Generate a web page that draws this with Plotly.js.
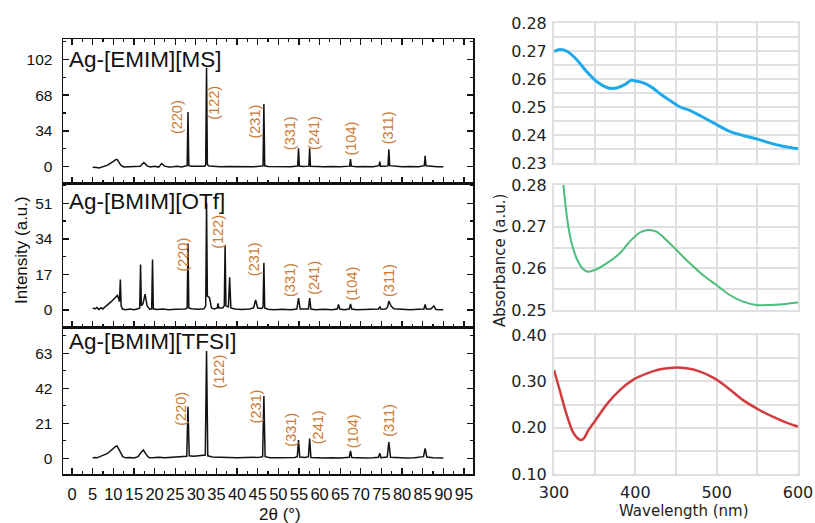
<!DOCTYPE html>
<html>
<head>
<meta charset="utf-8">
<script src="https://cdn.plot.ly/plotly-3.0.1.min.js"></script>
<style>html,body{margin:0;padding:0;background:#fff;}#chart{width:815px;height:523px;}</style>
</head>
<body>
<div id="chart"></div>
<script>
// ---------- XRD data (2θ, intensity) ----------
const xrdEmimMS = [[5,-0.5],[5.5,-1],[6,-0.8],[6.5,-1.2],[7,-0.6],[7.5,-0.3],[8,0.5],[8.5,1.2],[9,2.5],[9.5,3.5],[10,5],[10.5,6.5],[10.9,7],[11.3,4.5],[11.8,1.5],[12.5,-0.2],[13.5,0],[14.5,-0.3],[15.5,0.2],[16.5,0.5],[17.4,4],[18.2,0.8],[19,-0.2],[20,0.3],[21,-0.4],[21.7,3],[22.4,0.5],[23.5,-0.2],[24.5,0],[25.5,0.3],[26.5,-0.2],[27.5,0.2],[27.9,1],[28.1,52],[28.3,1],[29,0.4],[30,0],[31,0.3],[32.2,0.5],[32.4,2],[32.6,94],[32.8,2],[33.2,0.6],[34.5,0.2],[36,-0.1],[38,0.2],[40,0],[42,0.3],[44,0],[45.5,0.3],[46.3,0.8],[46.5,59.5],[46.7,0.8],[47.5,0.2],[49,0],[51,0.2],[53,-0.1],[54.7,0.6],[54.9,17.4],[55.1,0.6],[56,0.2],[57.4,0.5],[57.6,17.4],[57.8,0.5],[59,0.2],[61,0],[63,0.2],[65,-0.1],[67.3,0.5],[67.5,7.3],[67.7,0.5],[69,0],[71,0.2],[73,0],[74.4,1],[74.6,4.7],[74.8,0.5],[76,0.3],[76.6,1],[76.8,16.5],[77,1],[78.5,0.3],[80,0],[82,0.2],[84,0],[85.4,1],[85.6,10.4],[85.8,0.8],[87,0.2],[88.5,0],[90,0]];

const xrdBmimOTf = [[5,1],[5.5,0.5],[6,1.2],[6.5,0.3],[7,1],[7.5,0.6],[8,1.5],[8.5,2.2],[9,3],[9.5,4],[10,5],[10.5,6.2],[11,7],[11.3,5.5],[11.5,4],[11.7,14.6],[11.9,2],[12.2,0.5],[13,0.2],[14,0.5],[15,0.2],[16,0.6],[16.4,1],[16.6,21.8],[16.8,2],[17.2,3],[17.7,7.6],[18.2,2],[18.8,0.4],[19.3,0.6],[19.5,24.2],[19.7,0.6],[20.5,0.3],[22,0.5],[23.5,0.2],[25,0.4],[26.5,0.3],[27.5,0.5],[27.9,1],[28.1,31.8],[28.3,1],[29,0.6],[30.5,0.4],[32,0.6],[32.4,2],[32.6,51],[32.8,6.7],[33.3,6],[33.8,1],[34.5,0.5],[35.2,1],[35.4,3.2],[35.6,1],[36.5,1],[36.9,2],[37.1,31],[37.3,2],[37.9,1.5],[38.2,15.6],[38.5,1],[39.5,0.5],[41,0.3],[43,0.5],[44,1],[44.5,4.8],[45,1],[46,0.8],[46.3,1.5],[46.5,22.6],[46.7,1],[47.5,0.4],[49,0.2],[51,0.4],[53,0.2],[54.5,0.5],[54.9,5.7],[55.3,0.5],[56.5,0.3],[57.3,0.5],[57.6,5.7],[57.9,0.5],[59,0.2],[61,0.4],[63,0.2],[64.3,0.5],[64.6,2.7],[64.9,0.5],[66,0.2],[67.2,0.5],[67.5,2.9],[67.8,0.5],[69,0.2],[71,0.3],[73,0.2],[74.3,0.5],[74.6,1.6],[74.9,0.4],[76,0.5],[76.5,1.5],[76.8,4.3],[77.3,2],[78,0.6],[80,0.3],[82,0.2],[84,0.4],[85.3,0.5],[85.6,2.7],[85.9,0.5],[87,0.5],[87.7,1.9],[88.2,0.3],[89,0.2],[90,0.2]];

const xrdBmimTFSI = [[5,0.2],[5.5,0.5],[6,0.3],[6.5,0.8],[7,1],[7.5,1.5],[8,2],[8.5,2.8],[9,3.8],[9.5,5],[10,6],[10.5,7],[10.9,7.4],[11.3,5.5],[11.8,3],[12.3,1],[13,0.3],[14,0.5],[15,0.2],[16,1],[16.7,3.5],[17.3,5],[17.9,2.5],[18.6,0.5],[19.5,0.3],[21,0.6],[22.5,0.3],[24,0.6],[25.5,0.5],[27,0.8],[27.8,1.2],[28.1,31],[28.4,1.5],[29.5,1.2],[31,1.5],[32.3,2],[32.6,64.4],[32.9,1.5],[34,0.8],[36,0.6],[38,0.5],[40,0.4],[42,0.5],[44,0.3],[45.5,0.6],[46.2,1],[46.5,37.4],[46.8,1],[48,0.4],[50,0.3],[52,0.2],[54,0.5],[54.6,1],[54.9,11],[55.2,0.8],[56.5,0.5],[57.3,1],[57.6,11.8],[57.9,0.5],[59,0.3],[61,0.2],[63,0.3],[65,0.2],[67.2,0.6],[67.5,4.4],[67.8,0.5],[69,0.3],[71,0.2],[73,0.3],[74.3,0.6],[74.6,3],[74.9,0.4],[76.4,0.8],[76.8,9.8],[77.2,0.6],[79,0.3],[81,0.2],[83,0.3],[85.2,1],[85.6,6],[86,0.8],[87.5,0.3],[90,0.2]];

// Miller index labels and their positions per panel
const hklLabels = ["(220)","(122)","(231)","(331)","(241)","(104)","(311)"];
const hklEmimX = [25.3,34.4,44.3,52.8,58.8,67.7,76.6];
const hklEmimY = [47.5,60.8,42.7,31.7,31.7,27,36.5];
const hklOTfX = [26.8,35.4,44.3,52.8,58.8,67.9,76.8];
const hklOTfY = [26.3,37.4,24.2,14.3,15.2,12.7,14.3];
const hklTFSIX = [26.5,35.6,44.7,53,59.6,68,76.8];
const hklTFSIY = [30,52,31.4,17,18.6,16,23];

const sampleNames = ["Ag-[EMIM][MS]","Ag-[BMIM][OTf]","Ag-[BMIM][TFSI]"];

// tick labels
const twoThetaTicks = [0,5,10,15,20,25,30,35,40,45,50,55,60,65,70,75,80,85,90,95];
const wlTicks = [300,350,400,450,500,550,600];
const wlTickText = ["300","","400","","500","","600"];
const absTicksA = [0.23,0.235,0.24,0.245,0.25,0.255,0.26,0.265,0.27,0.275,0.28];
const absTextA = ["0.23","","0.24","","0.25","","0.26","","0.27","","0.28"];
const absTicksB = [0.25,0.255,0.26,0.265,0.27,0.275,0.28];
const absTextB = ["0.25","","0.26","","0.27","","0.28"];
const absTicksC = [0.10,0.15,0.20,0.25,0.30,0.35,0.40];
const absTextC = ["0.10","","0.20","","0.30","","0.40"];

// ---------- UV-vis data (wavelength nm, absorbance) ----------
const uvBlue = [[300,0.2699],[307,0.2705],[316,0.2699],[328,0.2669],[340,0.2627],[352,0.2592],[367,0.2568],[377,0.2568],[387,0.258],[395,0.2595],[401.5,0.2592],[410,0.2586],[420,0.2571],[432,0.2544],[444.5,0.252],[455,0.25],[467,0.2488],[481,0.2467],[500,0.2437],[516,0.2413],[532.5,0.2398],[549,0.2386],[565,0.2372],[581.6,0.236],[600,0.2351]];
const uvGreen = [[307,0.2885],[311.5,0.28],[316.4,0.2716],[321.7,0.266],[328.7,0.262],[336,0.2598],[342,0.2592],[350,0.2596],[364.7,0.2612],[381,0.2636],[393,0.2664],[405.6,0.2686],[415.8,0.2692],[426,0.2688],[438,0.2668],[450.6,0.2644],[467,0.2612],[483,0.2584],[499.7,0.256],[516,0.2536],[532.5,0.252],[549,0.2512],[565,0.2512],[581.6,0.2514],[600,0.2518]];
const uvRed = [[300,0.3245],[307,0.2813],[315,0.231],[323,0.1914],[329,0.177],[333,0.1734],[337,0.1775],[342,0.1935],[350,0.2135],[365.8,0.2525],[382,0.2827],[398,0.3043],[414.5,0.3173],[430.7,0.326],[447,0.3295],[463,0.328],[479.5,0.321],[495.7,0.308],[512,0.2885],[532,0.26],[552.5,0.2382],[568.8,0.2238],[585,0.2116],[600,0.2023]];

// ---------- layout helpers ----------
const W = 815, H = 523;
const px = v => v / W;
const py = v => 1 - v / H;
const LF = 'Liberation Sans, Arial, sans-serif';
const RF = 'DejaVu Sans, sans-serif';
const HKL_COLOR = '#c97a35';

function xyTrace(pairs, xa, ya, color, width) {
  return {x: pairs.map(p => p[0]), y: pairs.map(p => p[1]), xaxis: xa, yaxis: ya,
    type: 'scatter', mode: 'lines', line: {color: color, width: width, shape: 'linear'},
    hoverinfo: 'skip', showlegend: false};
}
function smoothTrace(pairs, xa, ya, color, width) {
  const t = xyTrace(pairs, xa, ya, color, width);
  t.line.shape = 'spline'; t.line.smoothing = 0.8;
  return t;
}

const traces = [
  xyTrace(xrdEmimMS, 'x3', 'y3', '#111', 1.5),
  xyTrace(xrdBmimOTf, 'x2', 'y2', '#111', 1.5),
  xyTrace(xrdBmimTFSI, 'x', 'y', '#111', 1.5),
  smoothTrace(uvBlue, 'x4', 'y4', '#1eaaea', 3),
  smoothTrace(uvGreen, 'x5', 'y5', '#4dbd7c', 2),
  smoothTrace(uvRed, 'x6', 'y6', '#d23c3f', 2.5)
];

const leftDomX = [px(63), px(473)];
function leftX(anchor, showLabels, mirror) {
  return {domain: leftDomX, anchor: anchor, range: [-2.2, 97.2],
    tickmode: 'array', tickvals: twoThetaTicks, ticktext: twoThetaTicks.map(String), tickangle: 0,
    ticks: 'inside', ticklen: 6, tickwidth: 1.3, tickcolor: '#111',
    minor: {ticks: 'inside', dtick: 2.5, tick0: 0, ticklen: 3, tickwidth: 1.2, tickcolor: '#111'},
    showline: true, linecolor: '#111', linewidth: 1.5, mirror: mirror,
    showgrid: false, zeroline: false, showticklabels: showLabels,
    ticklabelstandoff: 5,
    tickfont: {family: LF, size: 16.5, color: '#111'}};
}
function leftY(anchor, dom, rng, dtick, minor) {
  return {domain: dom, anchor: anchor, range: rng, tick0: 0, dtick: dtick,
    ticks: 'inside', ticklen: 6, tickwidth: 1.3, tickcolor: '#111',
    minor: {ticks: 'inside', dtick: minor, tick0: 0, ticklen: 3, tickwidth: 1.2, tickcolor: '#111'},
    showline: true, linecolor: '#111', linewidth: 1.5, mirror: 'ticks',
    showgrid: false, zeroline: false, ticklabelstandoff: 6,
    tickfont: {family: LF, size: 15.5, color: '#111'}};
}
const GRID = '#e0e0e0';
const rightDomX = [px(554), px(798)];
function rightX(anchor, showLabels) {
  return {domain: rightDomX, anchor: anchor, range: [300, 600],
    tickmode: 'array', tickvals: wlTicks, ticktext: wlTickText, tickangle: 0,
    showgrid: true, gridcolor: GRID, gridwidth: 2,
    showline: true, linecolor: GRID, linewidth: 2, mirror: true,
    ticks: '', zeroline: false, showticklabels: showLabels, ticklabelstandoff: 3,
    tickfont: {family: RF, size: 16, color: '#222'}};
}
function rightY(anchor, dom, rng, vals, text) {
  return {domain: dom, anchor: anchor, range: rng,
    tickmode: 'array', tickvals: vals, ticktext: text,
    showgrid: true, gridcolor: GRID, gridwidth: 2,
    showline: true, linecolor: GRID, linewidth: 2, mirror: true,
    ticks: '', zeroline: false, ticklabelstandoff: 2,
    tickfont: {family: RF, size: 16, color: '#222'}};
}

const annotations = [];
function addHkl(xs, ys, xa, ya) {
  hklLabels.forEach((t, i) => annotations.push({text: t, x: xs[i], y: ys[i], xref: xa, yref: ya,
    showarrow: false, textangle: -90, xanchor: 'center', yanchor: 'middle',
    font: {family: LF, size: 14.5, color: HKL_COLOR}}));
}
addHkl(hklEmimX, hklEmimY, 'x3', 'y3');
addHkl(hklOTfX, hklOTfY, 'x2', 'y2');
addHkl(hklTFSIX, hklTFSIY, 'x', 'y');

const nameY = [60, 201.5, 341.5];
sampleNames.forEach((n, i) => annotations.push({text: n, x: px(67), y: py(nameY[i]), xref: 'paper', yref: 'paper',
  showarrow: false, xanchor: 'left', yanchor: 'middle', font: {family: LF, size: 22.5, color: '#111'}}));

annotations.push({text: 'Intensity (a.u.)', x: px(21), y: py(250), xref: 'paper', yref: 'paper', showarrow: false,
  textangle: -90, xanchor: 'center', yanchor: 'middle', font: {family: LF, size: 17, color: '#111'}});
annotations.push({text: '2θ (°)', x: px(280), y: py(514), xref: 'paper', yref: 'paper', showarrow: false,
  xanchor: 'center', yanchor: 'middle', font: {family: LF, size: 17, color: '#111'}});
annotations.push({text: 'Absorbance (a.u.)', x: px(500), y: py(261), xref: 'paper', yref: 'paper', showarrow: false,
  textangle: -90, xanchor: 'center', yanchor: 'middle', font: {family: RF, size: 15, color: '#222'}});
annotations.push({text: 'Wavelength (nm)', x: px(684), y: py(511), xref: 'paper', yref: 'paper', showarrow: false,
  xanchor: 'center', yanchor: 'middle', font: {family: RF, size: 15, color: '#222'}});

const layout = {
  width: W, height: H, margin: {l: 0, r: 0, t: 0, b: 0}, showlegend: false,
  paper_bgcolor: '#fff', plot_bgcolor: '#fff',
  xaxis: leftX('y', true, true),
  xaxis2: leftX('y2', false, true),
  xaxis3: leftX('y3', false, 'ticks'),
  yaxis: leftY('x', [py(474), py(327)], [-9.4, 78.8], 21, 10.5),
  yaxis2: leftY('x2', [py(327), py(183)], [-8.1, 60.7], 17, 8.5),
  yaxis3: leftY('x3', [py(183), py(39)], [-15.5, 121.3], 34, 17),
  xaxis4: rightX('y4', false),
  xaxis5: rightX('y5', false),
  xaxis6: rightX('y6', true),
  yaxis4: rightY('x4', [py(163), py(23)], [0.23, 0.28], absTicksA, absTextA),
  yaxis5: rightY('x5', [py(310), py(185)], [0.25, 0.28], absTicksB, absTextB),
  yaxis6: rightY('x6', [py(474), py(335)], [0.10, 0.40], absTicksC, absTextC),
  annotations: annotations
};

Plotly.newPlot('chart', traces, layout, {staticPlot: true, displayModeBar: false});
</script>
</body>
</html>
